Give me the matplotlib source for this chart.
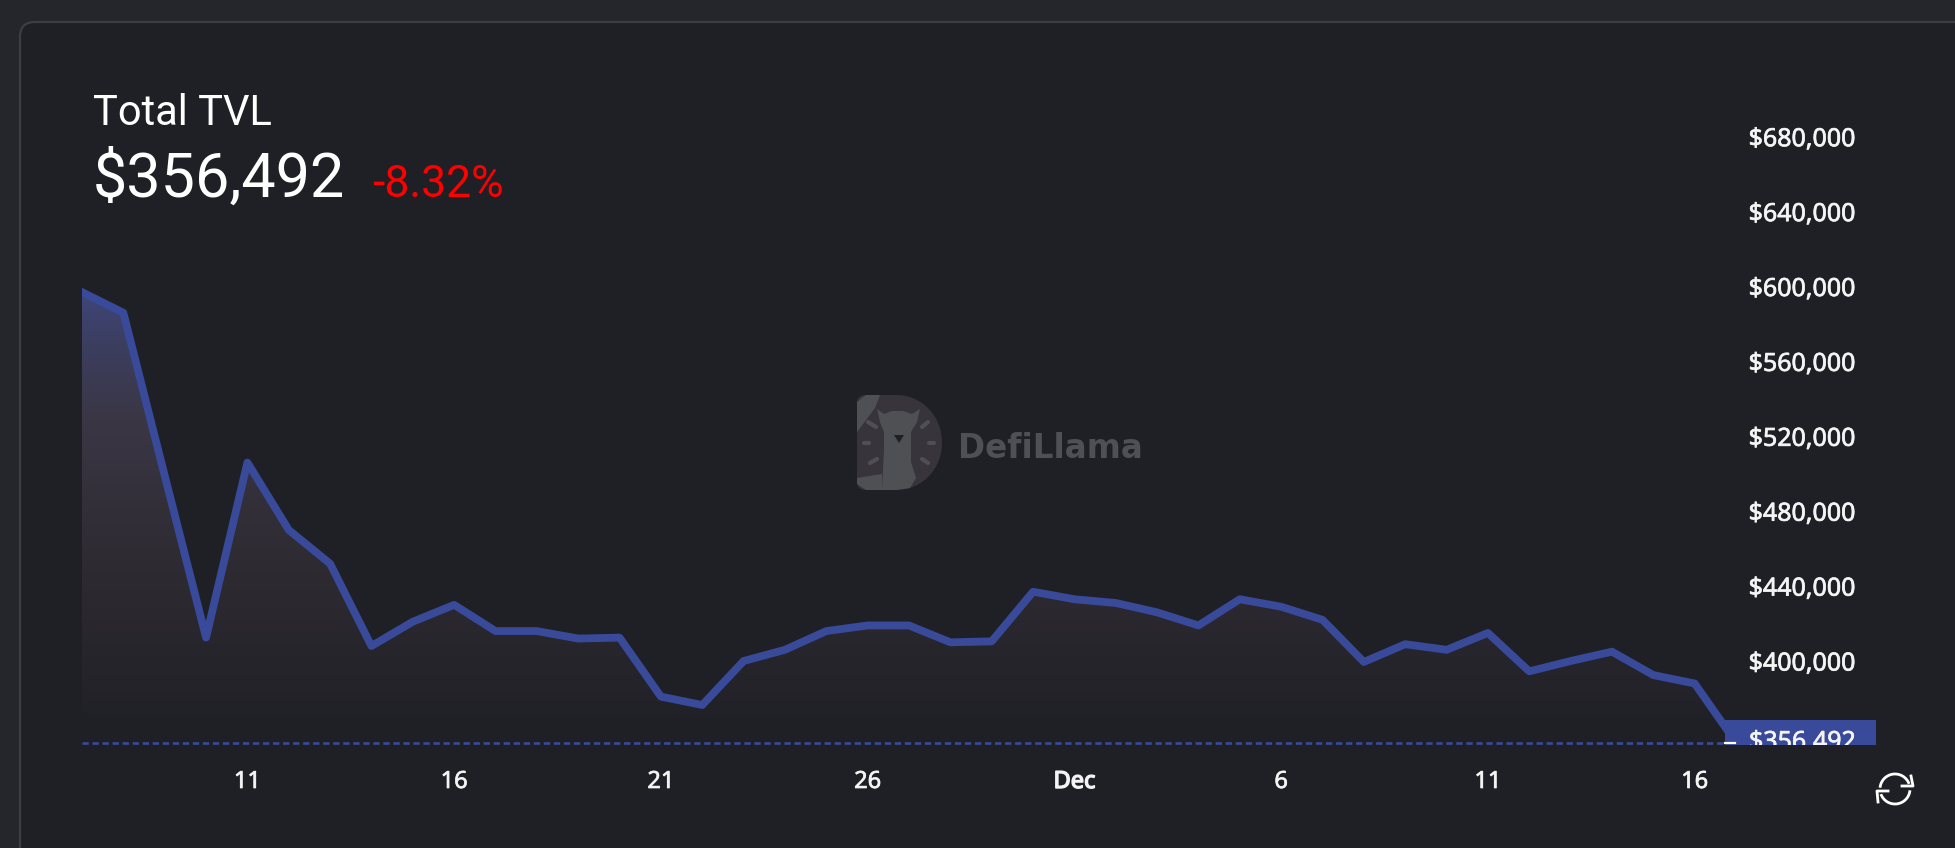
import matplotlib
matplotlib.use("Agg")
import matplotlib.pyplot as plt
import matplotlib.patheffects as pe
from matplotlib.colors import LinearSegmentedColormap
from matplotlib.patches import FancyBboxPatch, Rectangle, Polygon, PathPatch, Arc
from matplotlib.path import Path
import numpy as np
import pandas as pd

dates = pd.date_range("2023-11-07", "2023-12-17")
tvl = [597000, 586000, 499000, 412500, 506000, 470000, 452000, 408000, 421000, 430000,
       416000, 416000, 412000, 412500, 381000, 376500, 400000, 406000, 416000, 419000,
       419000, 410000, 410500, 437000, 433000, 431000, 426000, 419000, 433000, 429000,
       422000, 399500, 409000, 406000, 415000, 394500, 400000, 405000, 392500, 388000,
       356492]

y_ticks = [400000, 440000, 480000, 520000, 560000, 600000, 640000, 680000]
x_tick_dates = ["2023-11-11", "2023-11-16", "2023-11-21", "2023-11-26",
                "2023-12-01", "2023-12-06", "2023-12-11", "2023-12-16"]
x_tick_labels = ["11", "16", "21", "26", "Dec", "6", "11", "16"]

W, H = 1956, 848
BG = "#1f2026"
OUTER = "#25262b"
BLUE = "#384a99"
LOGO = "#4f5054"
LOGO_DARK = "#37343c"
head_font = "Roboto"
label_font = "Noto Sans"

fig = plt.figure(figsize=(W / 100, H / 100), dpi=100, facecolor=OUTER)

# overlay in pixel coordinates for the card, headline and logo
bg = fig.add_axes([0, 0, 1, 1], zorder=0)
bg.set_xlim(0, W)
bg.set_ylim(H, 0)
bg.axis("off")
bg.add_patch(FancyBboxPatch((20, 22), W + 60, H + 60, boxstyle="round,pad=0,rounding_size=15",
                            fc=BG, ec="#3b3d47", lw=1.6))

bg.text(93, 125, "Total TVL", color="white", fontsize=30, family=head_font, va="baseline")
bg.text(93, 197, "$356,492", color="white", fontsize=44, family=head_font, va="baseline")
bg.text(372, 197, "-8.32%", color="#ff0000", fontsize=32, family=head_font, va="baseline")

# logo
d_shape = Path([(857, 403), (857, 395), (866, 395), (896, 395), (922, 395), (942, 416), (942, 443),
                (942, 469), (922, 490), (896, 490), (866, 490), (857, 490), (857, 482), (857, 403)],
               [Path.MOVETO, Path.CURVE3, Path.CURVE3, Path.LINETO, Path.CURVE4, Path.CURVE4, Path.CURVE4,
                Path.CURVE4, Path.CURVE4, Path.CURVE4, Path.LINETO, Path.CURVE3, Path.CURVE3, Path.CLOSEPOLY])
bg.add_patch(PathPatch(d_shape, fc=LOGO_DARK, ec="none"))
bg.add_patch(Polygon([(857, 432), (857, 402), (866, 395), (880, 395), (875, 408)], fc=LOGO, ec="none"))
bg.add_patch(Polygon([(857, 478), (882, 474), (882, 490), (866, 490), (857, 484)], fc=LOGO, ec="none"))
bg.add_patch(Polygon([(877, 409), (884, 414), (892, 411), (903, 411), (912, 414), (920, 409), (917, 422), (911, 432),
                      (911, 462), (916, 478), (910, 488), (896, 490), (882, 490), (884, 450), (884, 432), (880, 422)],
                     fc=LOGO, ec="none"))
bg.add_patch(Polygon([(894, 435), (904, 435), (899, 443)], fc=BG, ec="none"))
for x0, y0, x1, y1 in [(868, 422, 876, 427), (864, 443, 869, 443), (870, 463, 877, 459),
                       (922, 427, 928, 422), (929, 443, 934, 443), (922, 459, 928, 463)]:
    bg.plot([x0, x1], [y0, y1], color=LOGO, lw=3, solid_capstyle="round")
bg.text(958, 458, "DefiLlama", color=LOGO, fontsize=23.5, family="DejaVu Sans", weight="bold", va="baseline")

# refresh icon
cx, cy, r = 1895, 789, 15
bg.add_patch(Arc((cx, cy), 2 * r, 2 * r, theta1=185, theta2=340, color="white", lw=2))
bg.add_patch(Arc((cx, cy), 2 * r, 2 * r, theta1=5, theta2=160, color="white", lw=2))
bg.plot([1911, 1913, 1902], [776, 786, 786], color="white", lw=2)
bg.plot([1878, 1877, 1888], [802, 791, 791], color="white", lw=2)

# main chart axes, pixel box 82..1725 x 100..745
left, right, top, bottom = 82, 1725, 100, 745
ax = fig.add_axes([left / W, 1 - bottom / H, (right - left) / W, (bottom - top) / H], zorder=1)
ax.patch.set_alpha(0)
for s in ax.spines.values():
    s.set_visible(False)

x = np.arange(len(tvl))
px_per_day = 41.35
ax.set_xlim(0, (right - left) / px_per_day)

px_per_usd = 74.9 / 40000
ax.set_ylim(356492 - (bottom - 742.5) / px_per_usd, 356492 + (742.5 - top) / px_per_usd)

# gradient fill under the line
fade = LinearSegmentedColormap.from_list("fade", [(0.0, "#3f4678"), (0.12, "#3c3e60"), (0.3, "#3a3644"),
                                                  (0.65, "#2e2a31"), (0.92, "#24232a"), (1.0, BG)])
xlim, ylim = ax.get_xlim(), ax.get_ylim()
fill = ax.fill_between(x, tvl, ylim[0], color="none", lw=0)
im = ax.imshow(np.linspace(0, 1, 256).reshape(-1, 1), cmap=fade, aspect="auto",
               extent=[xlim[0], xlim[1], ylim[0] + 10000, max(tvl)], origin="upper", zorder=1)
im.set_clip_path(fill.get_paths()[0], transform=ax.transData)
ax.set_xlim(xlim)
ax.set_ylim(ylim)

ax.plot(x, tvl, color=BLUE, lw=5.6, solid_joinstyle="round", zorder=3)
ax.axhline(tvl[-1], color=BLUE, lw=1.9, ls=(0, (2.4, 1.4)), zorder=2)

# x ticks, y ticks on the right
pos = [(pd.Timestamp(d) - dates[0]).days for d in x_tick_dates]
ax.set_xticks(pos, x_tick_labels)
ax.set_yticks(y_ticks, [f"${v:,}" for v in y_ticks])
ax.yaxis.tick_right()
ax.tick_params(axis="x", length=0, pad=18, colors="#f4f4f4", labelsize=17)
ax.tick_params(axis="y", length=0, pad=17, colors="#f4f4f4", labelsize=18)
thick = [pe.withStroke(linewidth=0.5, foreground="#f4f4f4")]
for t in ax.get_xticklabels() + ax.get_yticklabels():
    t.set_family(label_font)
    t.set_path_effects(thick)
ax.get_xticklabels()[4].set_path_effects([pe.withStroke(linewidth=1.0, foreground="#f4f4f4")])

# last value tag, clipped at the bottom edge of the chart like the original
top_layer = fig.add_axes([0, 0, 1, 1], zorder=2)
top_layer.set_xlim(0, W)
top_layer.set_ylim(H, 0)
top_layer.axis("off")
clip = Rectangle((1725, 720), 151, 25, transform=top_layer.transData)
top_layer.add_patch(Rectangle((1725, 720), 151, 25, fc=BLUE, ec="none"))
top_layer.plot([1725, 1735], [742.5, 742.5], color="white", lw=1.6)
tag = top_layer.text(1749, 742.5, f"${tvl[-1]:,}", color="#f4f4f4", fontsize=18, family=label_font,
                     va="center", path_effects=thick)
tag.set_clip_path(clip)
tag.set_clip_on(True)

fig.savefig("out.png", dpi=100, facecolor=fig.get_facecolor())
